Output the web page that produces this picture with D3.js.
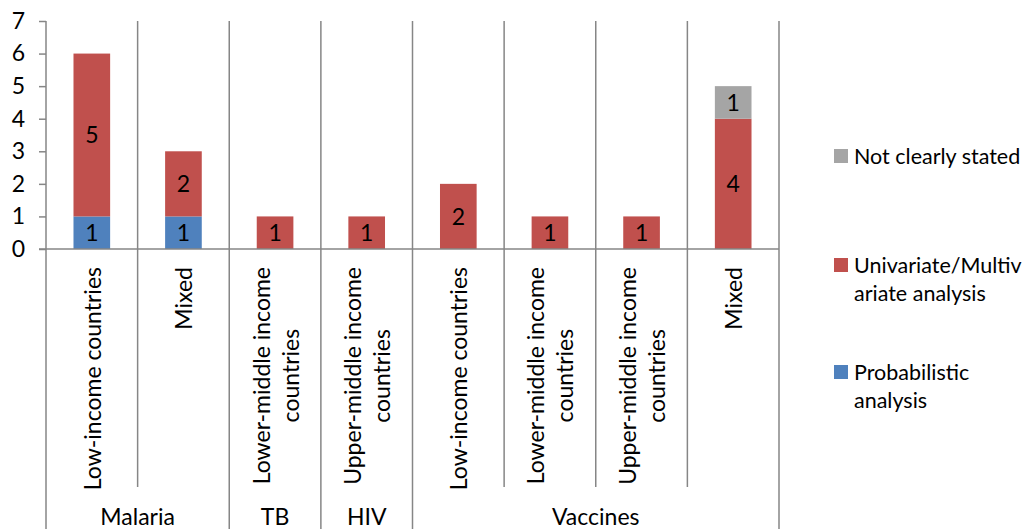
<!DOCTYPE html>
<html>
<head>
<meta charset="utf-8">
<script src="https://cdn.jsdelivr.net/npm/d3@7"></script>
<style>
  body { margin: 0; background: #fff; }
  svg { display: block; font-family: Lato, "Open Sans", sans-serif; }
</style>
</head>
<body>
<div id="chart"></div>
<script>
// category labels (already wrapped the way the picture shows them)
let categories = [
    ["Low-income countries"],
    ["Mixed"],
    ["Lower-middle income", "countries"],
    ["Upper-middle income", "countries"],
    ["Low-income countries"],
    ["Lower-middle income", "countries"],
    ["Upper-middle income", "countries"],
    ["Mixed"]
];
let groups = ["Malaria", "TB", "HIV", "Vaccines"];
let groupSizes = [2, 1, 1, 4];

// series values, bottom to top
let probabilistic = [1, 1, 0, 0, 0, 0, 0, 0];
let univariate = [5, 2, 1, 1, 2, 1, 1, 4];
let notClear = [0, 0, 0, 0, 0, 0, 0, 1];

let seriesNames = ["Probabilistic analysis", "Univariate/Multivariate analysis", "Not clearly stated"];
let legendLines = [["Not clearly stated"], ["Univariate/Multiv", "ariate analysis"], ["Probabilistic", "analysis"]];
let yTicks = [0, 1, 2, 3, 4, 5, 6, 7];

let colors = ["#4F81BD", "#C0504D", "#A5A5A5"];
let axisColor = "#868686";
let fontSize = "23px";

let frame = { width: 1029, height: 529 },
    plot = { left: 46, right: 779, top: 21, bottom: 249 };

let svg = d3.select("#chart").append("svg")
    .attr("width", frame.width)
    .attr("height", frame.height);

let x = d3.scaleBand()
    .domain(d3.range(categories.length))
    .range([plot.left, plot.right])
    .padding(0);

let y = d3.scaleLinear()
    .domain([0, 7])
    .range([plot.bottom, plot.top]);

// stack the three series
let rows = categories.map(function (c, i) {
    return { i: i, s0: probabilistic[i], s1: univariate[i], s2: notClear[i] };
});
let stack = d3.stack().keys(["s0", "s1", "s2"]);
let layers = stack(rows);

// vertical separators in the plot area
svg.append("g")
    .selectAll("line")
    .data(d3.range(1, categories.length + 1))
    .join("line")
    .attr("x1", function (d) { return d === categories.length ? plot.right : x(d); })
    .attr("x2", function (d) { return d === categories.length ? plot.right : x(d); })
    .attr("y1", plot.top)
    .attr("y2", plot.bottom)
    .attr("stroke", axisColor)
    .attr("stroke-width", 1.5);

// bars
let barW = x.bandwidth() * 0.4;
layers.forEach(function (layer, k) {
    let g = svg.append("g");
    g.selectAll("rect")
        .data(layer.filter(function (d) { return d[1] - d[0] > 0; }))
        .join("rect")
        .attr("x", function (d) { return x(d.data.i) + (x.bandwidth() - barW) / 2; })
        .attr("width", barW)
        .attr("y", function (d) { return y(d[1]); })
        .attr("height", function (d) { return y(d[0]) - y(d[1]); })
        .attr("fill", colors[k]);
    g.selectAll("text")
        .data(layer.filter(function (d) { return d[1] - d[0] > 0; }))
        .join("text")
        .attr("x", function (d) { return x(d.data.i) + x.bandwidth() / 2; })
        .attr("y", function (d) { return y((d[0] + d[1]) / 2); })
        .attr("dy", "0.36em")
        .attr("text-anchor", "middle")
        .style("font-size", fontSize)
        .attr("fill", "#000")
        .text(function (d) { return d[1] - d[0]; });
});

// y axis
let yAxis = svg.append("g")
    .attr("transform", "translate(" + plot.left + ",0)")
    .call(d3.axisLeft(y).tickValues(yTicks).tickFormat(d3.format("d")).tickSize(7).tickPadding(14));
yAxis.select(".domain").remove();
yAxis.selectAll(".tick line").attr("stroke", axisColor).attr("stroke-width", 1.5);
yAxis.selectAll(".tick text").style("font-size", fontSize).style("font-family", "Lato, 'Open Sans', sans-serif").attr("fill", "#000");

// axis lines
svg.append("line")
    .attr("x1", plot.left).attr("x2", plot.left)
    .attr("y1", plot.top).attr("y2", frame.height)
    .attr("stroke", axisColor).attr("stroke-width", 1.5);
svg.append("line")
    .attr("x1", plot.left - 7).attr("x2", plot.right)
    .attr("y1", plot.bottom).attr("y2", plot.bottom)
    .attr("stroke", axisColor).attr("stroke-width", 1.5);

// category separators below the axis: inner ones stop above the group row
let groupEnds = [];
let acc = 0;
groupSizes.forEach(function (n) { acc += n; groupEnds.push(acc); });
svg.append("g")
    .selectAll("line")
    .data(d3.range(1, categories.length + 1))
    .join("line")
    .attr("x1", function (d) { return d === categories.length ? plot.right : x(d); })
    .attr("x2", function (d) { return d === categories.length ? plot.right : x(d); })
    .attr("y1", plot.bottom)
    .attr("y2", function (d) { return groupEnds.includes(d) ? frame.height : 487; })
    .attr("stroke", axisColor)
    .attr("stroke-width", 1.5);

// rotated category labels
let lineH = 29;
categories.forEach(function (lines, i) {
    let cx = x(i) + x.bandwidth() / 2;
    let first = cx + 9 - (lines.length - 1) * lineH / 2;
    let t = svg.append("text")
        .attr("transform", "translate(" + first + ",267) rotate(-90)")
        .attr("text-anchor", "middle")
        .style("font-size", fontSize)
        .attr("fill", "#000");
    // lines are centered on each other, block is pushed to the top
    let widths = [];
    lines.forEach(function (l, j) {
        t.append("tspan").attr("x", 0).attr("y", j * lineH).text(l);
    });
    t.selectAll("tspan").each(function () { widths.push(this.getComputedTextLength()); });
    let maxW = d3.max(widths);
    t.selectAll("tspan").attr("x", -maxW / 2);
});

// group labels
let start = 0;
groups.forEach(function (g, k) {
    let x0 = x(start);
    let end = start + groupSizes[k];
    let x1 = end === categories.length ? plot.right : x(end);
    svg.append("text")
        .attr("x", (x0 + x1) / 2)
        .attr("y", 525)
        .attr("text-anchor", "middle")
        .style("font-size", fontSize)
        .attr("fill", "#000")
        .text(g);
    start = end;
});

// legend
let legendY = [156, 265, 372];
let legendColors = [colors[2], colors[1], colors[0]];
legendLines.forEach(function (lines, k) {
    svg.append("rect")
        .attr("x", 834).attr("y", legendY[k] - 7)
        .attr("width", 14).attr("height", 14)
        .attr("fill", legendColors[k]);
    let t = svg.append("text")
        .style("font-size", "21.5px")
        .attr("fill", "#000");
    lines.forEach(function (l, j) {
        t.append("tspan")
            .attr("x", 854)
            .attr("y", legendY[k] + j * 28)
            .attr("dy", "0.36em")
            .text(l);
    });
});
</script>
</body>
</html>
